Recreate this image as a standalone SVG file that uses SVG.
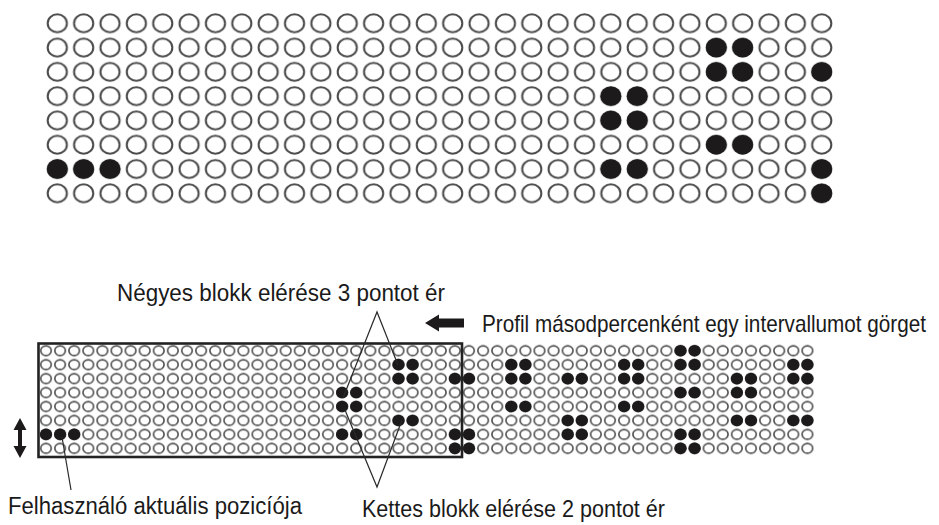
<svg xmlns="http://www.w3.org/2000/svg" xmlns:xlink="http://www.w3.org/1999/xlink" width="939" height="525" viewBox="0 0 939 525">
  <style>
    .lbl { font-family: "Liberation Sans", Arial, sans-serif; font-size: 23px; fill: #1a1a1a; }
    .lead { fill: none; stroke: #2a2a2a; stroke-width: 1.2; }
    .ring-l { fill: none; stroke: #4a4a4a; stroke-width: 2; }
    .ring-s { fill: none; stroke: #4f4f4f; stroke-width: 1.6; }
    .ink { fill: #1c1a1a; }
  </style>
  <defs>
    <!-- empty cell of the large profile grid -->
    <pattern id="cellL" patternUnits="userSpaceOnUse" x="44.12" y="11.155" width="26.36" height="24.29">
      <ellipse class="ring-l" cx="13.18" cy="12.145" rx="9.6" ry="8.9"/>
    </pattern>
    <!-- empty cell of the small scrolling strip -->
    <pattern id="cellS" patternUnits="userSpaceOnUse" x="38.95" y="343.725" width="14.1" height="13.95">
      <ellipse class="ring-s" cx="7.05" cy="6.975" rx="5.3" ry="4.9"/>
    </pattern>
    <ellipse id="bigdot" class="ink" rx="10.4" ry="9.7"/>
    <ellipse id="dot" class="ink" rx="6.1" ry="5.8"/>
  </defs>

  <rect width="939" height="525" fill="#fff"/>

  <!-- large 30 x 8 profile grid -->
  <g id="top-grid">
    <rect x="44.12" y="11.155" width="790.8" height="194.32" fill="url(#cellL)"/>
    <g transform="translate(0,47.59)"><use xlink:href="#bigdot" x="716.3"/><use xlink:href="#bigdot" x="742.66"/></g>
    <g transform="translate(0,71.88)"><use xlink:href="#bigdot" x="716.3"/><use xlink:href="#bigdot" x="742.66"/><use xlink:href="#bigdot" x="821.74"/></g>
    <g transform="translate(0,96.17)"><use xlink:href="#bigdot" x="610.86"/><use xlink:href="#bigdot" x="637.22"/></g>
    <g transform="translate(0,120.46)"><use xlink:href="#bigdot" x="610.86"/><use xlink:href="#bigdot" x="637.22"/></g>
    <g transform="translate(0,144.75)"><use xlink:href="#bigdot" x="716.3"/><use xlink:href="#bigdot" x="742.66"/></g>
    <g transform="translate(0,169.04)"><use xlink:href="#bigdot" x="57.3"/><use xlink:href="#bigdot" x="83.66"/><use xlink:href="#bigdot" x="110.02"/><use xlink:href="#bigdot" x="610.86"/><use xlink:href="#bigdot" x="637.22"/><use xlink:href="#bigdot" x="821.74"/></g>
    <g transform="translate(0,193.33)"><use xlink:href="#bigdot" x="821.74"/></g>
  </g>

  <!-- small 55 x 8 scrolling strip -->
  <g id="bottom-grid">
    <rect x="38.95" y="343.725" width="775.5" height="111.6" fill="url(#cellS)"/>
    <g transform="translate(0,350.7)"><use xlink:href="#dot" x="680.5"/><use xlink:href="#dot" x="694.6"/></g>
    <g transform="translate(0,364.65)"><use xlink:href="#dot" x="398.5"/><use xlink:href="#dot" x="412.6"/><use xlink:href="#dot" x="511.3"/><use xlink:href="#dot" x="525.4"/><use xlink:href="#dot" x="624.1"/><use xlink:href="#dot" x="638.2"/><use xlink:href="#dot" x="680.5"/><use xlink:href="#dot" x="694.6"/><use xlink:href="#dot" x="793.3"/><use xlink:href="#dot" x="807.4"/></g>
    <g transform="translate(0,378.6)"><use xlink:href="#dot" x="398.5"/><use xlink:href="#dot" x="412.6"/><use xlink:href="#dot" x="454.9"/><use xlink:href="#dot" x="469"/><use xlink:href="#dot" x="511.3"/><use xlink:href="#dot" x="525.4"/><use xlink:href="#dot" x="567.7"/><use xlink:href="#dot" x="581.8"/><use xlink:href="#dot" x="624.1"/><use xlink:href="#dot" x="638.2"/><use xlink:href="#dot" x="736.9"/><use xlink:href="#dot" x="751"/><use xlink:href="#dot" x="793.3"/><use xlink:href="#dot" x="807.4"/></g>
    <g transform="translate(0,392.55)"><use xlink:href="#dot" x="342.1"/><use xlink:href="#dot" x="356.2"/><use xlink:href="#dot" x="680.5"/><use xlink:href="#dot" x="694.6"/><use xlink:href="#dot" x="736.9"/><use xlink:href="#dot" x="751"/></g>
    <g transform="translate(0,406.5)"><use xlink:href="#dot" x="342.1"/><use xlink:href="#dot" x="356.2"/><use xlink:href="#dot" x="511.3"/><use xlink:href="#dot" x="525.4"/><use xlink:href="#dot" x="624.1"/><use xlink:href="#dot" x="638.2"/></g>
    <g transform="translate(0,420.45)"><use xlink:href="#dot" x="398.5"/><use xlink:href="#dot" x="412.6"/><use xlink:href="#dot" x="567.7"/><use xlink:href="#dot" x="581.8"/><use xlink:href="#dot" x="736.9"/><use xlink:href="#dot" x="751"/><use xlink:href="#dot" x="793.3"/><use xlink:href="#dot" x="807.4"/></g>
    <g transform="translate(0,434.4)"><use xlink:href="#dot" x="46"/><use xlink:href="#dot" x="60.1"/><use xlink:href="#dot" x="74.2"/><use xlink:href="#dot" x="342.1"/><use xlink:href="#dot" x="356.2"/><use xlink:href="#dot" x="454.9"/><use xlink:href="#dot" x="469"/><use xlink:href="#dot" x="567.7"/><use xlink:href="#dot" x="581.8"/><use xlink:href="#dot" x="680.5"/><use xlink:href="#dot" x="694.6"/></g>
    <g transform="translate(0,448.35)"><use xlink:href="#dot" x="454.9"/><use xlink:href="#dot" x="469"/><use xlink:href="#dot" x="680.5"/><use xlink:href="#dot" x="694.6"/></g>
  </g>

  <!-- visible window frame -->
  <g id="window">
    <rect x="38.5" y="343.5" width="423.5" height="113.5" fill="none" stroke="#222" stroke-width="2.6"/>
  </g>

  <!-- vertical movement arrow -->
  <g id="move-arrow">
    <polygon class="ink" points="20,418 26.5,430 22,430 22,446 26.5,446 20,458 13.5,446 18,446 18,430 13.5,430"/>
  </g>

  <!-- scroll direction arrow -->
  <g id="scroll-arrow">
    <polygon class="ink" points="425,323 439,314.5 439,318.5 464,318.5 464,327.5 439,327.5 439,331.5"/>
  </g>

  <!-- leader lines -->
  <g id="connectors">
    <polyline class="lead" points="343,398 377,312 398,365"/>
    <polyline class="lead" points="345,410 377,487 402,420"/>
    <line class="lead" x1="62" y1="437" x2="71" y2="490"/>
  </g>

  <g id="labels">
    <text class="lbl" x="117" y="301" textLength="328" lengthAdjust="spacingAndGlyphs">Négyes blokk elérése 3 pontot ér</text>
    <text class="lbl" transform="translate(482,332) scale(0.9,1)">Profil másodpercenként egy intervallumot görget</text>
    <text class="lbl" x="8" y="514" textLength="294" lengthAdjust="spacingAndGlyphs">Felhasználó aktuális pozicíója</text>
    <text class="lbl" x="362" y="517" textLength="303" lengthAdjust="spacingAndGlyphs">Kettes blokk elérése 2 pontot ér</text>
  </g>
</svg>
